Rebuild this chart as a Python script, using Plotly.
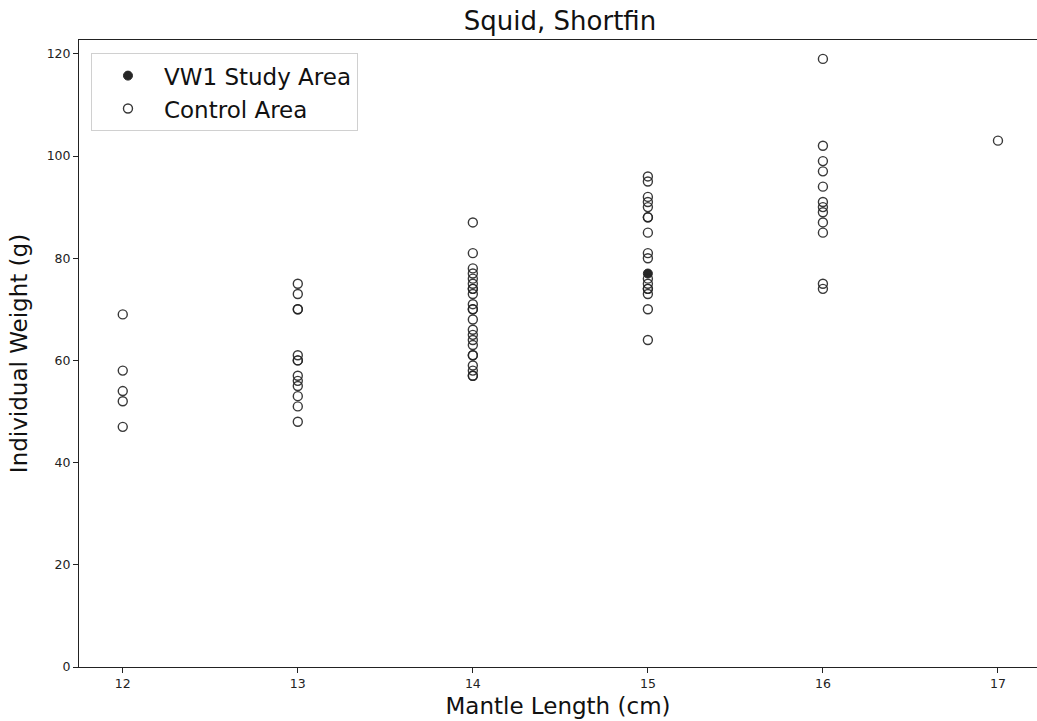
import plotly.graph_objects as go

# Mantle length (cm) and individual weight (g) for shortfin squid
control_len_12 = [12, 12, 12, 12, 12]
control_wt_12 = [69, 58, 54, 52, 47]

control_len_13 = [13] * 13
control_wt_13 = [75, 73, 70, 70, 61, 60, 60, 57, 56, 55, 53, 51, 48]

control_len_14 = [14] * 23
control_wt_14 = [87, 81, 78, 77, 76, 75, 74, 74, 73, 71, 70, 70, 68, 66, 65, 64, 63, 61, 61, 59, 58, 57, 57]

control_len_15 = [15] * 17
control_wt_15 = [96, 95, 92, 91, 90, 88, 88, 85, 81, 80, 76, 75, 74, 74, 73, 70, 64]

control_len_16 = [16] * 12
control_wt_16 = [119, 102, 99, 97, 94, 91, 90, 89, 87, 85, 75, 74]

control_len_17 = [17]
control_wt_17 = [103]

study_len = [15]
study_wt = [77]

x_ticks = [12, 13, 14, 15, 16, 17]
y_ticks = [0, 20, 40, 60, 80, 100, 120]

control_len = control_len_12 + control_len_13 + control_len_14 + control_len_15 + control_len_16 + control_len_17
control_wt = control_wt_12 + control_wt_13 + control_wt_14 + control_wt_15 + control_wt_16 + control_wt_17

FONT = "DejaVu Sans"

fig = go.Figure()
fig.add_trace(go.Scatter(
    x=study_len, y=study_wt, mode="markers", name="VW1 Study Area",
    marker=dict(symbol="circle", size=9, color="#262626",
                line=dict(color="#262626", width=1)),
))
fig.add_trace(go.Scatter(
    x=control_len, y=control_wt, mode="markers", name="Control Area",
    marker=dict(symbol="circle-open", size=9, color="rgba(35,35,35,0.9)",
                line=dict(width=1.4)),
))

fig.update_layout(
    width=1037, height=721,
    margin=dict(l=79, r=0, t=40, b=54),
    paper_bgcolor="white", plot_bgcolor="white",
    font=dict(family=FONT, color="#000000"),
    title=dict(text="Squid, Shortfin", x=560 / 1037, xanchor="center", xref="container",
               y=1 - 21 / 721, yanchor="middle", yref="container",
               font=dict(size=26, family=FONT, color="#111111")),
    showlegend=True,
    legend=dict(x=0.0125, y=0.979, xanchor="left", yanchor="top",
                bgcolor="white", bordercolor="#d0d0d0", borderwidth=1,
                font=dict(size=23, family=FONT, color="#111111"),
                itemwidth=62, tracegroupgap=0),
)

fig.update_xaxes(
    range=[11.75, 17.223], tickvals=x_ticks, ticktext=[str(v) for v in x_ticks],
    showgrid=False, zeroline=False,
    showline=True, linecolor="#222222", linewidth=1, mirror=True,
    ticks="outside", ticklen=5, tickcolor="#222222",
    tickfont=dict(size=12.5, family=FONT, color="#222222"),
    title=dict(text="Mantle Length (cm)", standoff=7,
               font=dict(size=23, family=FONT, color="#111111")),
)
fig.update_yaxes(
    range=[0, 122.7], tickvals=y_ticks, ticktext=[str(v) for v in y_ticks],
    showgrid=False, zeroline=False,
    showline=True, linecolor="#222222", linewidth=1, mirror=False,
    ticks="outside", ticklen=5, tickcolor="#222222",
    tickfont=dict(size=12.5, family=FONT, color="#222222"),
    title=dict(text="Individual Weight (g)", standoff=12,
               font=dict(size=23, family=FONT, color="#111111")),
)

fig.write_html("out.html")
